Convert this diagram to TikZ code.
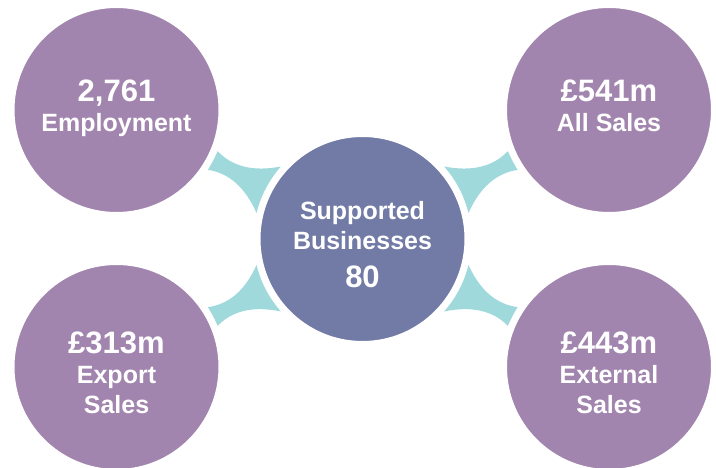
\documentclass[tikz,border=0pt]{standalone}
\usepackage{fontspec}
\setmainfont{Liberation Sans}
\usepackage{xcolor}
\usetikzlibrary{calc,backgrounds}
\definecolor{petal}{HTML}{A285AE}
\definecolor{hubblue}{HTML}{717BA6}
\definecolor{linkteal}{HTML}{9FD9DB}
\newcommand{\figtxt}[1]{{\fontsize{31}{34}\selectfont #1}}
\newcommand{\padtop}[1]{\rule{0pt}{#1}}
\newcommand{\padbot}[1]{\rule[-#1]{0pt}{0pt}}

\begin{document}
\begin{tikzpicture}[x=1pt,y=1pt,
  ball/.style={circle,draw=white,line width=7pt,minimum size=211pt,inner sep=0pt,
    text=white,align=center,font=\fontsize{25}{30}\selectfont\bfseries},
  link/.style={fill=linkteal}]
\useasboundingbox (0,0) rectangle (716,468);
\node[ball,fill=hubblue] (hub) at (362.5,229) {\padtop{30pt}Supported\\Businesses\\[8pt]\figtxt{80}};
\node[ball,fill=petal] (emp) at (116.5,358) {\figtxt{2,761}\\Employment\padbot{9pt}};
\node[ball,fill=petal] (all) at (609,358)   {\figtxt{£541m}\\All Sales\padbot{8pt}};
\node[ball,fill=petal] (exp) at (116.5,101) {\padtop{33pt}\figtxt{£313m}\\Export\\Sales};
\node[ball,fill=petal] (ext) at (609,101)   {\padtop{33pt}\figtxt{£443m}\\External\\Sales};
% concave links behind the circles
\begin{scope}[on background layer]
\foreach \o/\a in {emp/152.3,all/27.7,exp/207.7,ext/332.3}{
  \coordinate (m)  at ($(hub)!.5!(\o)$);
  \coordinate (h1) at ([shift={({\a+14}:109)}]hub.center);
  \coordinate (h2) at ([shift={({\a-14}:109)}]hub.center);
  \coordinate (o1) at ([shift={({\a+174.4}:109)}]\o.center);
  \coordinate (o2) at ([shift={({\a+185.6}:109)}]\o.center);
  \fill[link] (h1) .. controls ($(h1)!.67!(m)$) and ($(o1)!.67!(m)$) .. (o1)
    -- (o2) .. controls ($(o2)!.67!(m)$) and ($(h2)!.67!(m)$) .. (h2) -- cycle;
}
\end{scope}
\end{tikzpicture}
\end{document}
